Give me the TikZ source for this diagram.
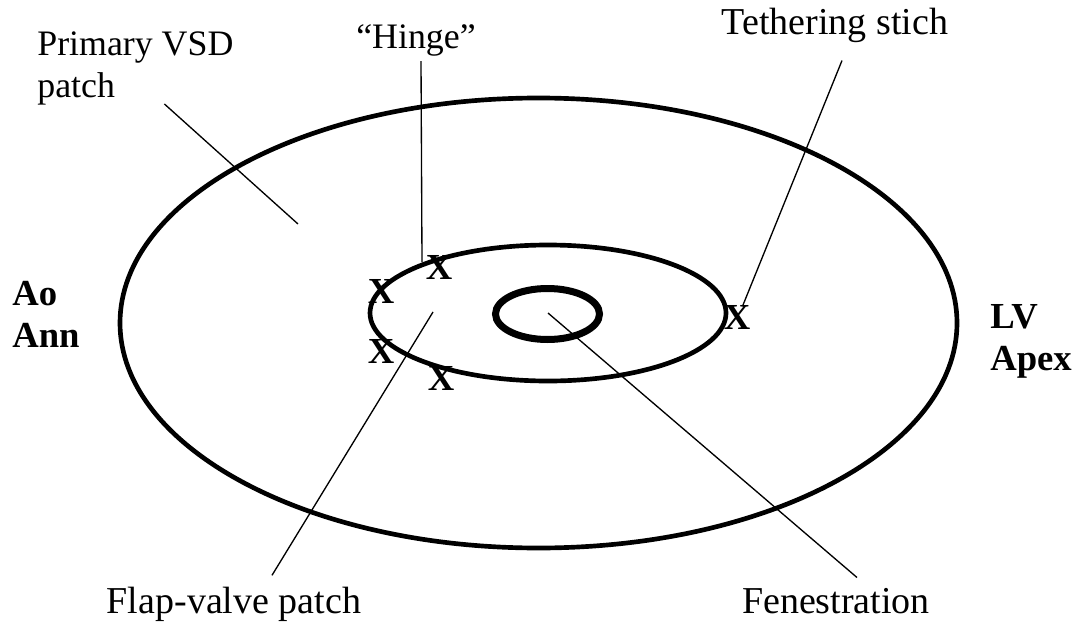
\documentclass[tikz,border=0pt]{standalone}
\usepackage{fontspec}
\setmainfont{Liberation Serif}
\usetikzlibrary{shapes.geometric}

\begin{document}
\begin{tikzpicture}[x=0.6pt, y=-0.6pt, every node/.style={font=\fontsize{21.5}{25.2}\selectfont}, lbl/.style={align=left, inner sep=0pt}, biglbl/.style={lbl, font=\fontsize{22.8}{26}\selectfont}, side/.style={lbl, font=\fontsize{22}{25.2}\selectfont\bfseries}, xmark/.style={inner sep=0pt, font=\fontsize{22}{22}\selectfont\bfseries}, ring/.style={draw, ellipse, inner sep=0pt, line width=2.8pt}, lead/.style={line width=0.8pt}]
\useasboundingbox (0,0) rectangle (1081,626);
% patches
\node[ring, minimum width=502.2pt, minimum height=270pt] (primary) at (538.5,323) {};
\node[ring, minimum width=213.6pt, minimum height=81.6pt] (flap) at (548,313) {};
\node[ring, line width=4.2pt, minimum width=62.4pt, minimum height=30.6pt] (fen) at (547.5,314) {};
% stitches
\node[xmark] (x1) at (439,267) {X};
\node[xmark] (x2) at (381,291) {X};
\node[xmark] (x3) at (381,351) {X};
\node[xmark] (x4) at (441,378) {X};
\node[xmark] (x5) at (737,317) {X};
% labels
\node[lbl, anchor=base west] (vsdlbl) at (37,97) {Primary VSD\\patch};
\node[lbl, anchor=base] (hingelbl) at (416,49) {“Hinge”};
\node[biglbl, anchor=base] (tetherlbl) at (835,35) {Tethering stich};
\node[side, anchor=base west] (aolbl) at (12,347) {Ao\\Ann};
\node[side, anchor=base west] (lvlbl) at (990,370) {LV\\Apex};
\node[biglbl, anchor=base] (flaplbl) at (234,613) {Flap-valve patch};
\node[biglbl, anchor=base] (fenlbl) at (836,613) {Fenestration};
% leader ends
\coordinate (vsdend) at (298,224);
\coordinate (hingeend) at (422,262);
\coordinate (tetherend) at (743,305);
\coordinate (flapend) at (433,312);
\coordinate (fenend) at (548,313);
\draw[lead] (vsdlbl.south) ++(29,-1) -- (vsdend);
\draw[lead] (hingelbl.south) ++(5,4) -- (hingeend);
\draw[lead] (tetherlbl.south) ++(7,17) -- (tetherend);
\draw[lead] (flaplbl.north) ++(38,-11) -- (flapend);
\draw[lead] (fenlbl.north) ++(21,-10) -- (fenend);
\end{tikzpicture}
\end{document}
